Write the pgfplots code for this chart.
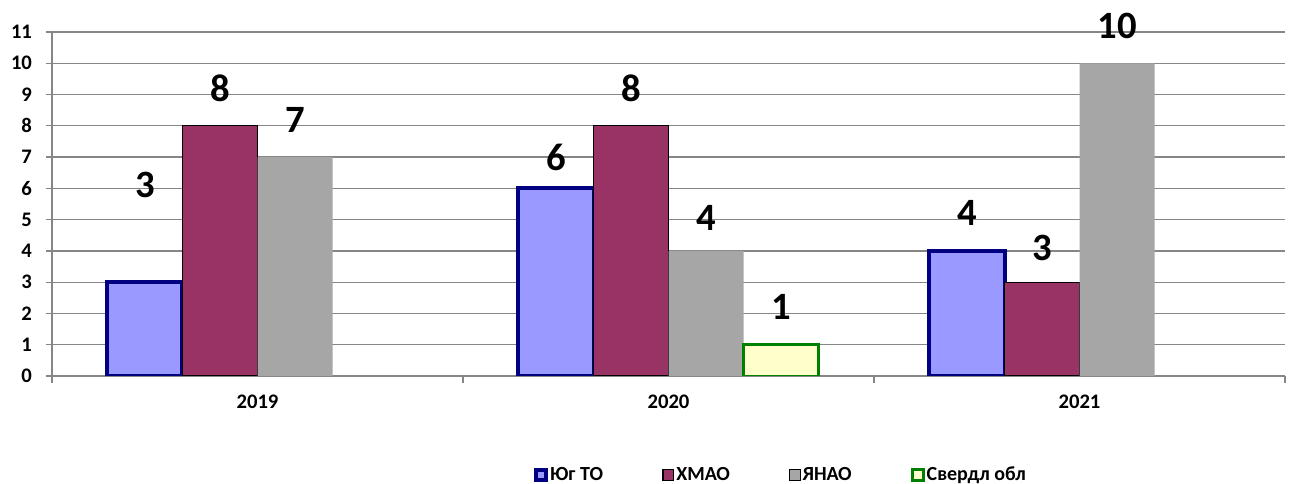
\documentclass[border=0pt]{standalone}
\usepackage{pgfplots}
\pgfplotsset{compat=1.18}
\usepackage{pgfplotstable}
\usepackage{fontspec}
\setmainfont{Carlito}
\definecolor{yugf}{HTML}{9999FF}
\definecolor{yugd}{HTML}{000080}
\definecolor{hmao}{HTML}{993366}
\definecolor{yanao}{HTML}{A6A6A6}
\definecolor{sverf}{HTML}{FFFFCC}
\definecolor{sverd}{HTML}{008000}
\definecolor{gridc}{HTML}{868686}
\pgfplotstableread{
x y off
0 3 3.1
1 6 1.0
2 4 1.2
}\yug
\pgfplotstableread{
x y off
0 8 1.2
1 8 1.2
2 3 1.1
}\hm
\pgfplotstableread{
x y off
0 7 1.2
1 4 1.05
2 10 1.2
}\ya
\pgfplotstableread{
x y off
1 1 1.2
}\sv
\begin{document}
\begin{tikzpicture}
\path[use as bounding box] (-39pt,-81pt) rectangle (929.25pt,282pt);
\begin{axis}[
  ybar, bar width=0.1825,
  scale only axis, width=924.75pt, height=258pt,
  xmin=-0.5, xmax=2.5, ymin=0, ymax=11,
  axis x line*=bottom, axis y line*=left,
  axis line style={draw=gridc, line width=1pt, -},
  ytick={0,1,...,11},
  ymajorgrids, grid style={draw=gridc, line width=1pt},
  xtick={0,1,2}, xticklabels={2019,2020,2021},
  minor xtick={-0.5,0.5,1.5,2.5},
  tick align=outside,
  major x tick style={draw=none},
  minor x tick style={draw=gridc, line width=1pt},
  ytick style={draw=gridc, line width=1pt},
  major tick length=4.5pt, minor tick length=5pt,
  /pgf/number format/assume math mode=true,
  ticklabel style={font=\bfseries\fontsize{15.5}{17}\selectfont},
  xticklabel style={yshift=-6pt},
  yticklabel style={xshift=-7pt},
  legend columns=4,
  legend style={at={(0.591,-0.288)}, anchor=center, draw=none,
    font=\bfseries\fontsize{15}{17}\selectfont,
    nodes={inner xsep=1.5pt},
    /tikz/every even column/.append style={column sep=43pt}},
  mybar/.style={legend image code/.code={\draw[##1] (0pt,-4pt) rectangle (8pt,4pt);}},
  visualization depends on={\thisrow{off} \as \labeloff},
  nodes near coords,
  nodes near coords style={anchor=center, yshift={\labeloff*23.4545pt},
    font=\bfseries\fontsize{29}{29}\selectfont, text=black},
]
\addplot[mybar, bar shift=-0.27375, fill=yugf, draw=yugd, line width=3pt] table[x=x,y=y] {\yug};
\addlegendentry{Юг ТО}
\addplot[mybar, bar shift=-0.09125, fill=hmao, draw=black, line width=1pt] table[x=x,y=y] {\hm};
\addlegendentry{ХМАО}
\addplot[mybar, bar shift=0.09125, fill=yanao, draw=none] table[x=x,y=y] {\ya};
\addlegendentry{ЯНАО}
\addplot[mybar, bar shift=0.27375, fill=sverf, draw=sverd, line width=2.2pt] table[x=x,y=y] {\sv};
\addlegendentry{Свердл обл}
\end{axis}
\end{tikzpicture}
\end{document}
